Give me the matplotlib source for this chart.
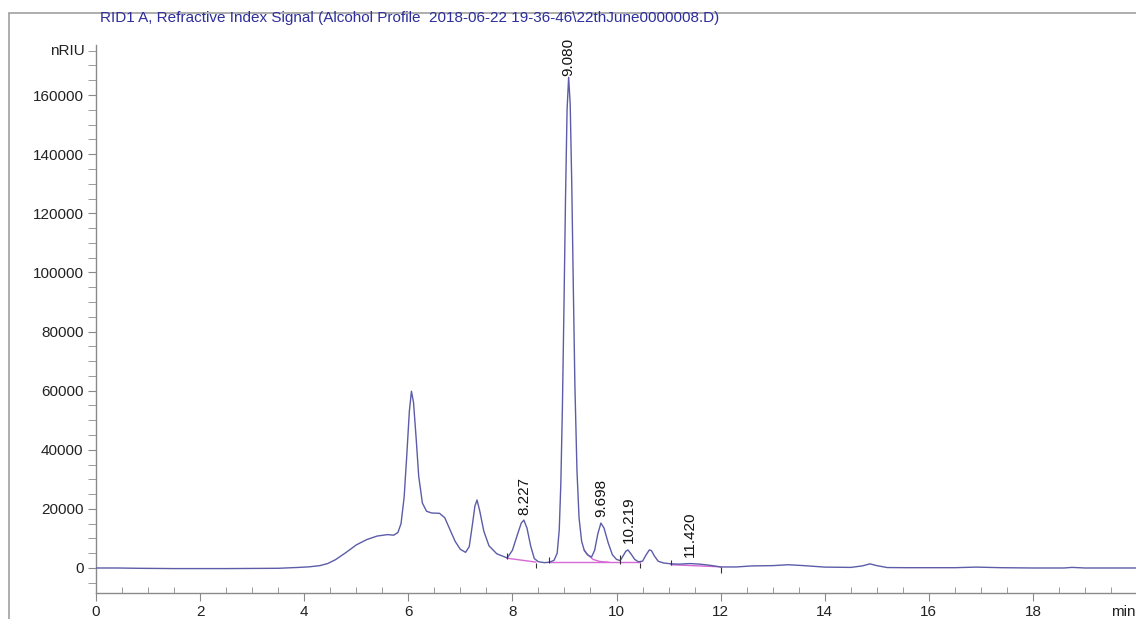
#!/usr/bin/env python3
"""RID chromatogram (Alcohol Profile) redrawn with matplotlib."""

import numpy as np
import matplotlib.pyplot as plt
from matplotlib.patches import Rectangle

plt.rcParams['font.family'] = ['Liberation Sans', 'DejaVu Sans']

TITLE = "RID1 A, Refractive Index Signal (Alcohol Profile  2018-06-22 19-36-46\\22thJune0000008.D)"

# signal trace (min, nRIU)
time_min = [0.0, 0.4, 0.8, 1.5, 2.5, 3.5, 3.9, 4.1, 4.3, 4.45, 4.6, 4.8, 5.0, 5.2, 5.4,
            5.6, 5.72, 5.8, 5.86, 5.92, 5.97, 6.02, 6.06, 6.1, 6.15, 6.2, 6.27, 6.35, 6.45,
            6.6, 6.7, 6.8, 6.9, 7.0, 7.1, 7.17, 7.23, 7.28, 7.32, 7.37, 7.45, 7.55, 7.7,
            7.9, 8.0, 8.1, 8.17, 8.22, 8.28, 8.35, 8.42, 8.5, 8.62, 8.72, 8.8, 8.86, 8.9,
            8.93, 8.96, 8.99, 9.02, 9.05, 9.08, 9.11, 9.14, 9.17, 9.2, 9.24, 9.28, 9.33,
            9.38, 9.44, 9.52,
            9.58, 9.64, 9.7, 9.76, 9.84, 9.92, 10.0, 10.07, 10.13, 10.18, 10.22, 10.28,
            10.35, 10.42, 10.5, 10.57, 10.63, 10.67, 10.73, 10.8, 10.9, 11.05, 11.2, 11.42,
            11.6, 11.8, 12.0, 12.3, 12.6, 13.0, 13.3, 13.6, 14.0, 14.5, 14.72, 14.87, 15.0,
            15.2, 15.6, 16.0, 16.5, 16.9, 17.4, 18.0, 18.6, 18.75, 19.0, 19.5, 20.0]
signal = [0, 0, -100, -200, -200, -100, 200, 400, 800, 1500, 2800, 5200, 7800, 9600, 10800,
          11300, 11100, 12000, 15000, 24000, 38000, 53000, 59800, 56000, 44000, 31000, 22000,
          19200, 18600, 18500, 17000, 13000, 9000, 6300, 5300, 7200, 14500, 21000, 23000,
          19500, 12500, 7500, 4800, 3400, 6000, 11500, 15200, 16200, 13500, 7500, 3200, 2100,
          1800, 2000, 2600, 5000, 13000,
          28500, 54000, 88000, 125000, 155000, 166000, 157000, 130000, 95000, 62000, 33000,
          17000, 9000,
          6000, 4500, 3700, 6000, 11500, 15200, 13500, 8500, 4500,
          2900, 2500, 4200, 5700, 6100, 4700, 2900, 2100, 2300, 4500, 6100, 5900, 4000, 2300,
          1700, 1400, 1300, 1500, 1300, 900, 350, 350, 700, 800, 1100, 800, 300, 200, 700,
          1400, 800, 150, 100, 100, 100, 300, 100, 0, 0, 200, 0, 0, 0]

# integration baselines (magenta)
base_segments = [
    ([7.9, 8.45], [3300, 2000]),
    ([8.7, 10.45], [1900, 1900]),
    ([9.38, 9.45, 9.55, 9.68, 9.85], [6000, 4400, 2900, 2200, 1950]),
    ([11.05, 12.0], [1100, 400]),
]

# peak start/stop marks: (time, low, high)
mark_time = [7.9, 8.45, 8.7, 10.07, 10.45, 11.05, 12.0]
mark_low = [3000, 0, 1700, 1400, 0, 1000, -1700]
mark_high = [5000, 1700, 3700, 4400, 1700, 2700, 300]

# retention time labels
rt_labels = ["8.227", "9.080", "9.698", "10.219", "11.420"]
rt_x = [8.227, 9.080, 9.698, 10.24, 11.41]
rt_y = [17800, 166500, 17300, 8500, 3700]

fig = plt.figure(figsize=(11.36, 6.19), dpi=100)
ax = fig.add_axes([96 / 1136, 26 / 619, 1 - 96 / 1136, 548 / 619])

# outer grey frame of the report panel
fig.patches.append(Rectangle((9 / 1136, -0.1), 1.2, 1.1 - 13 / 619, transform=fig.transFigure,
                             fill=False, edgecolor='#a0a0a0', lw=1.2))

ax.plot(time_min, signal, color='#5c5ca8', lw=1.0, zorder=3)
for xs, ys in base_segments:
    ax.plot(xs, ys, color='#d768d7', lw=1.0, zorder=2)
ax.vlines(mark_time, mark_low, mark_high, color='#333333', lw=0.8, zorder=4)

for lab, x, y in zip(rt_labels, rt_x, rt_y):
    ax.text(x, y, lab, rotation=90, ha='center', va='bottom', fontsize=11, color='#111111')

ax.set_xlim(0, 19.98)
ax.set_ylim(-8460, 176930)
ax.set_xticks(np.arange(0, 19, 2))
ax.set_xticks(np.arange(0, 20, 0.5), minor=True)
ax.set_yticks(np.arange(0, 160001, 20000))
ax.set_yticks(np.arange(-5000, 176000, 5000), minor=True)

for side in ('top', 'right'):
    ax.spines[side].set_visible(False)
for side in ('left', 'bottom'):
    ax.spines[side].set_color('#8a8a8a')
    ax.spines[side].set_linewidth(1.0)

ax.tick_params(axis='x', which='major', direction='out', length=6, color='#8a8a8a',
               labelsize=11, pad=3, labelcolor='#222222')
ax.tick_params(axis='x', which='minor', direction='in', length=4, color='#8a8a8a')
ax.tick_params(axis='y', which='major', direction='out', length=6, color='#8a8a8a',
               labelsize=11, pad=3, labelcolor='#222222')
ax.tick_params(axis='y', which='minor', direction='out', length=6, color='#8a8a8a')

ax.text(-0.011, 175000, "nRIU", transform=ax.get_yaxis_transform(), ha='right',
        va='center', fontsize=11, color='#222222')
ax.text(1.0, -0.034, "min", transform=ax.transAxes, ha='right', va='center',
        fontsize=11, color='#222222')

fig.text(100 / 1136, 1 - 18 / 619, TITLE, ha='left', va='center', fontsize=11,
         color='#2e2e9c')

fig.savefig("out.png", dpi=100)
